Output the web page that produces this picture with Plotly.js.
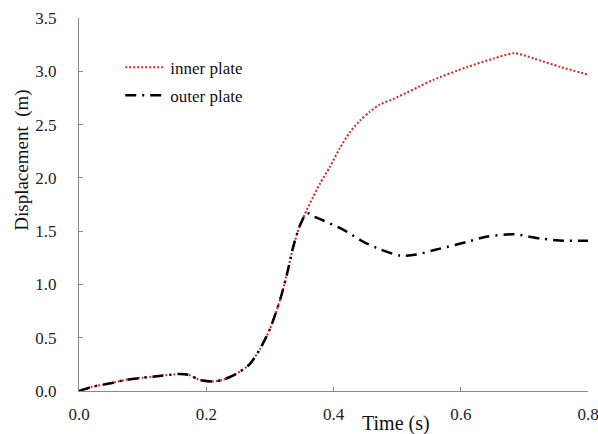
<!DOCTYPE html>
<html>
<head>
<meta charset="utf-8">
<script src="https://cdn.plot.ly/plotly-3.0.1.min.js"></script>
<style>html,body{margin:0;padding:0;background:#fff;}#chart{width:598px;height:434px;}</style>
</head>
<body>
<div id="chart"></div>
<script>
// Time (s)
const tInner = [0, 0.021, 0.047, 0.074, 0.1, 0.126, 0.158, 0.173, 0.189, 0.21, 0.226, 0.247, 0.268, 0.284, 0.3, 0.316, 0.326, 0.337, 0.347, 0.358,
  0.368, 0.379, 0.394, 0.41, 0.426, 0.442, 0.457, 0.473, 0.494, 0.515, 0.536, 0.557, 0.61, 0.652, 0.684, 0.715, 0.757, 0.8];
const innerPlate = [0, 0.04, 0.07, 0.105, 0.125, 0.14, 0.16, 0.15, 0.105, 0.09, 0.105, 0.16, 0.25, 0.39, 0.58, 0.855, 1.075, 1.36, 1.55, 1.70,
  1.82, 1.95, 2.10, 2.28, 2.43, 2.54, 2.62, 2.69, 2.74, 2.80, 2.86, 2.92, 3.04, 3.12, 3.17, 3.12, 3.04, 2.97];
const tOuter = [0, 0.021, 0.047, 0.074, 0.1, 0.126, 0.158, 0.173, 0.189, 0.21, 0.226, 0.247, 0.268, 0.284, 0.3, 0.316, 0.326, 0.337, 0.347, 0.358,
  0.368, 0.384, 0.415, 0.447, 0.473, 0.505, 0.53, 0.557, 0.61, 0.642, 0.684, 0.726, 0.762, 0.8];
const outerPlate = [0, 0.04, 0.07, 0.105, 0.125, 0.14, 0.16, 0.15, 0.105, 0.09, 0.105, 0.16, 0.25, 0.39, 0.58, 0.855, 1.075, 1.36, 1.55, 1.67,
  1.64, 1.60, 1.515, 1.40, 1.33, 1.27, 1.28, 1.32, 1.40, 1.45, 1.47, 1.43, 1.41, 1.41];
const seriesNames = ['inner plate', 'outer plate'];
const xTitle = 'Time (s)';
const yTitle = 'Displacement  (m)';

const font = "'Liberation Serif', serif";
const axisColor = '#898989';

const traces = [
  {x: tInner, y: innerPlate, name: seriesNames[0], mode: 'lines', legendgroup: 'a',
   line: {color: '#e02020', width: 2, dash: '2px,2px', shape: 'spline', smoothing: 0.7}},
  {x: tOuter, y: outerPlate, name: seriesNames[1], mode: 'lines', legendgroup: 'b',
   line: {color: '#000000', width: 2.5, dash: '11px,6px,2px,6px', shape: 'spline', smoothing: 0.7}}
];

const layout = {
  width: 598, height: 434,
  margin: {l: 79, r: 10, t: 18, b: 43},
  paper_bgcolor: '#ffffff', plot_bgcolor: '#ffffff',
  font: {family: font, color: '#222', size: 16},
  showlegend: true,
  legend: {x: 0.081, y: 0.915, xanchor: 'left', yanchor: 'top', bgcolor: 'rgba(0,0,0,0)', itemwidth: 40,
    font: {family: font, size: 17, color: '#111'}, traceorder: 'grouped', tracegroupgap: 3},
  xaxis: {range: [0, 0.8], dtick: 0.2, tick0: 0, tickformat: '.1f', showgrid: false, zeroline: false,
    showline: true, linecolor: axisColor, linewidth: 1, ticks: 'inside', ticklen: 4, tickcolor: axisColor,
    ticklabeloverflow: 'allow',
    ticklabelstandoff: 8, tickfont: {family: font, size: 17, color: '#222'}},
  yaxis: {range: [0, 3.5], dtick: 0.5, tick0: 0, tickformat: '.1f', showgrid: false, zeroline: false,
    showline: true, linecolor: axisColor, linewidth: 1, ticks: 'inside', ticklen: 4, tickcolor: axisColor,
    ticklabelstandoff: 18, tickfont: {family: font, size: 17, color: '#222'}},
  annotations: [
    {text: xTitle, xref: 'paper', yref: 'paper', x: 0.623, y: -0.088, xanchor: 'center', yanchor: 'middle',
     showarrow: false, font: {family: font, size: 20, color: '#111'}},
    {text: yTitle, xref: 'paper', yref: 'paper', x: -0.112, y: 0.62, xanchor: 'center', yanchor: 'middle',
     textangle: -90, showarrow: false, font: {family: font, size: 19, color: '#111'}}
  ]
};

Plotly.newPlot('chart', traces, layout, {displayModeBar: false, staticPlot: true});
</script>
</body>
</html>
